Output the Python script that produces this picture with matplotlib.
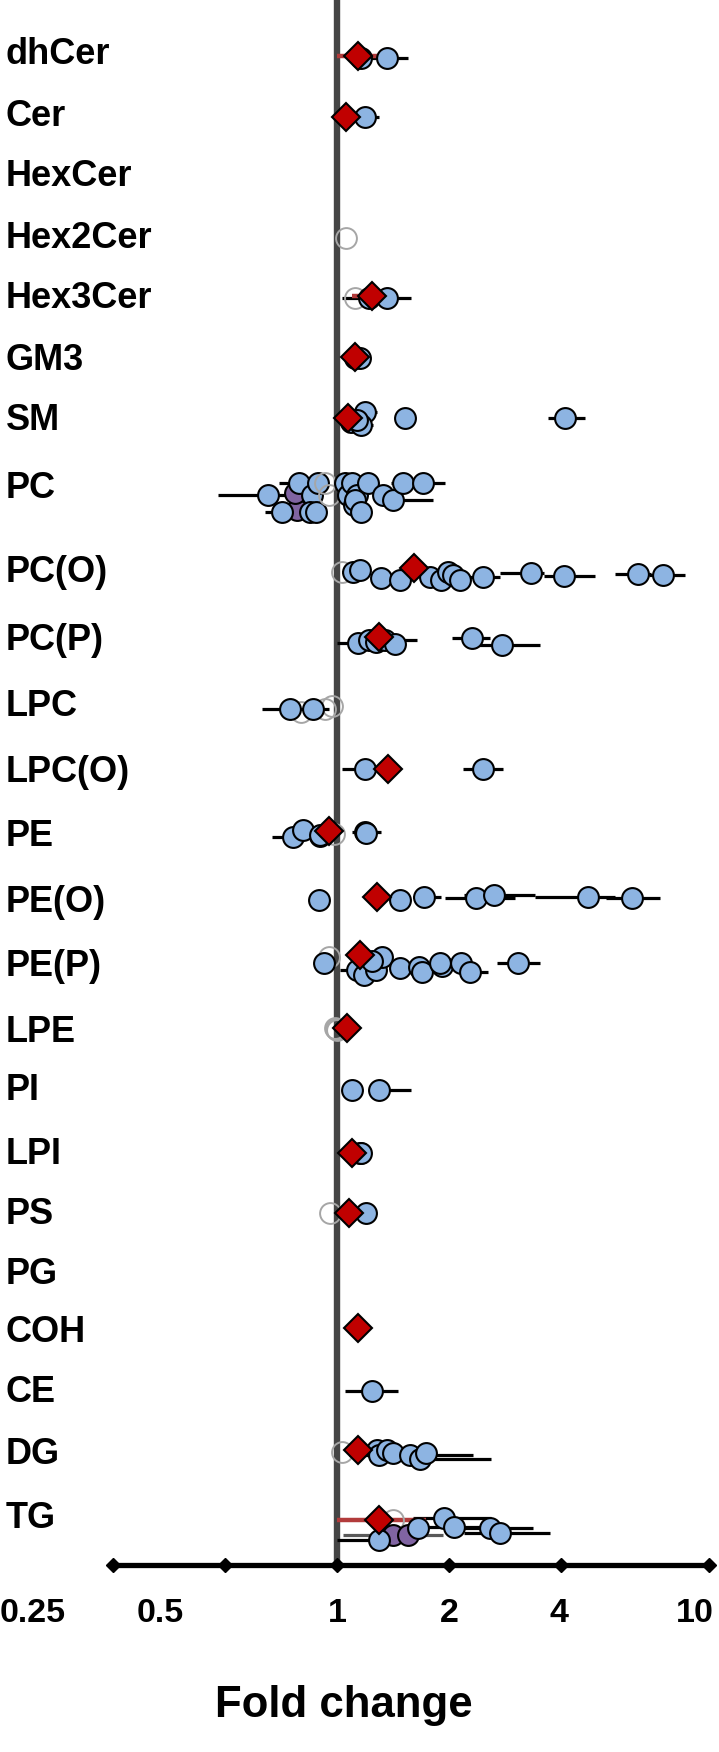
import matplotlib
matplotlib.use('Agg')
import matplotlib.pyplot as plt
from matplotlib.transforms import blended_transform_factory

plt.rcParams['font.family'] = ['Liberation Sans', 'DejaVu Sans']
plt.rcParams['font.weight'] = 'bold'

# ---------------- data ----------------
classes = ['dhCer', 'Cer', 'HexCer', 'Hex2Cer', 'Hex3Cer', 'GM3', 'SM', 'PC', 'PC(O)', 'PC(P)',
           'LPC', 'LPC(O)', 'PE', 'PE(O)', 'PE(P)', 'LPE', 'PI', 'LPI', 'PS', 'PG', 'COH', 'CE',
           'DG', 'TG']

# individual species: class, fold change, CI low, CI high, kind (s=significant, n=ns, p=purple), jitter
sp_class = (['dhCer'] * 2 + ['Cer'] * 1 + ['Hex2Cer'] * 1 + ['Hex3Cer'] * 3 + ['GM3'] * 2 +
            ['SM'] * 6 + ['PC'] * 23 + ['PC(O)'] * 15 + ['PC(P)'] * 7 + ['LPC'] * 5 +
            ['LPC(O)'] * 2 + ['PE'] * 7 + ['PE(O)'] * 7 + ['PE(P)'] * 15 + ['LPE'] * 3 +
            ['PI'] * 2 + ['LPI'] * 2 + ['PS'] * 2 + ['CE'] * 1 + ['DG'] * 8 + ['TG'] * 9)

sp_fc = [1.16, 1.36,
         1.19,
         1.06,
         1.12, 1.22, 1.36,
         1.12, 1.15,
         1.19, 1.09, 1.16, 1.13, 1.52, 4.10,
         0.78, 0.77, 0.654, 0.71, 0.79, 0.855, 0.89, 0.846, 0.88, 0.93, 0.95,
         1.05, 1.07, 1.10, 1.11, 1.13, 1.12, 1.16, 1.21, 1.33, 1.41, 1.50, 1.70,
         1.03, 1.105, 1.15, 1.31, 1.48, 1.78, 1.90, 1.99, 2.05, 2.14, 2.47, 3.32, 4.07, 6.43, 7.5,
         1.14, 1.22, 1.27, 1.35, 1.43, 2.30, 2.77,
         0.80, 0.93, 0.97, 0.746, 0.86,
         1.19, 2.47,
         0.90, 0.76, 0.81, 0.90, 0.98, 1.19, 1.20,
         0.896, 1.48, 1.71, 2.36, 2.64, 4.73, 6.19,
         0.95, 0.92, 1.13, 1.18, 1.27, 1.32, 1.24, 1.48, 1.66, 1.69, 1.91, 1.89, 2.16, 2.28, 3.07,
         0.99, 1.00, 0.995,
         1.095, 1.30,
         1.15, 1.16,
         0.955, 1.20,
         1.24,
         1.03, 1.28, 1.30, 1.36, 1.41, 1.57, 1.67, 1.73,
         1.41, 1.41, 1.55, 1.30, 1.65, 1.94, 2.06, 2.57, 2.74]

sp_lo = [1.16, 1.20,
         1.10,
         1.06,
         1.12, 1.03, 1.22,
         1.12, 1.08,
         1.19, 1.09, 1.10, 1.13, 1.52, 3.70,
         0.78, 0.77, 0.48, 0.64, 0.70, 0.855, 0.89, 0.846, 0.88, 0.93, 0.95,
         1.05, 1.07, 1.10, 1.11, 1.13, 1.12, 1.16, 1.21, 1.33, 1.30, 1.40, 1.55,
         1.03, 1.03, 1.15, 1.31, 1.48, 1.78, 1.90, 1.99, 2.05, 2.14, 2.20, 2.74, 3.60, 5.60, 6.90,
         1.00, 1.22, 1.27, 1.30, 1.43, 2.04, 2.40,
         0.80, 0.93, 0.97, 0.63, 0.80,
         1.03, 2.18,
         0.90, 0.67, 0.81, 0.90, 0.98, 1.10, 1.20,
         0.87, 1.48, 1.60, 1.95, 2.20, 3.40, 5.30,
         0.95, 0.92, 1.02, 1.18, 1.27, 1.32, 1.24, 1.48, 1.66, 1.69, 1.91, 1.89, 2.16, 2.28, 2.69,
         0.99, 1.00, 0.995,
         1.03, 1.30,
         1.15, 1.16,
         0.955, 1.20,
         1.05,
         1.03, 1.28, 1.08, 1.36, 1.41, 1.40, 1.50, 1.73,
         1.41, 1.41, 1.04, 1.00, 1.65, 1.60, 1.70, 2.10, 2.20]

sp_hi = [1.16, 1.55,
         1.30,
         1.06,
         1.12, 1.30, 1.58,
         1.12, 1.23,
         1.28, 1.09, 1.25, 1.13, 1.52, 4.65,
         0.78, 0.77, 0.74, 0.78, 0.86, 0.855, 0.89, 0.846, 0.88, 0.93, 0.95,
         1.05, 1.07, 1.10, 1.11, 1.13, 1.12, 1.16, 1.21, 1.33, 1.81, 1.60, 1.95,
         1.03, 1.105, 1.15, 1.31, 1.48, 1.78, 1.90, 1.99, 2.05, 2.14, 2.74, 3.60, 4.93, 7.00, 8.60,
         1.20, 1.22, 1.27, 1.64, 1.43, 2.58, 3.51,
         0.80, 0.93, 0.97, 0.80, 0.95,
         1.25, 2.79,
         0.90, 0.80, 0.81, 0.90, 0.98, 1.31, 1.20,
         0.93, 1.48, 1.90, 3.00, 3.40, 5.60, 7.40,
         0.95, 0.95, 1.13, 1.18, 1.27, 1.32, 1.24, 1.48, 1.66, 1.69, 1.91, 1.89, 2.16, 2.55, 3.51,
         0.99, 1.00, 0.995,
         1.095, 1.58,
         1.15, 1.16,
         0.955, 1.20,
         1.46,
         1.03, 1.28, 1.30, 1.36, 1.41, 2.32, 2.60, 1.73,
         1.41, 1.41, 1.93, 1.50, 1.65, 2.60, 2.70, 3.36, 3.73]

sp_kind = ('ss' + 's' + 'n' + 'nss' + 'ss' + 'ssssss' +
           'pp' + 'sssssss' + 'nn' + 'ssssssssssss' +
           'n' + 'ssssssssssssss' +
           'sssssss' +
           'nnnss' +
           'ss' +
           'psssnss' +
           'sssssss' +
           'nssssssssssssss' +
           'nnn' + 'ss' + 'ss' + 'ns' + 's' +
           'nsssssss' +
           'nppssssss')

sp_jitter = [7, 7,
             4,
             2,
             2, 2, 2,
             0, 0,
             -6, 4, 7, 2, 0, 0,
             25, 8, 10, 27, -2, 10, -2, 27, 27, -2, 10,
             -2, 10, -2, 20, 10, 15, 27, -2, 10, 15, -2, -2,
             2, 2, 0, 8, 10, 7, 10, 2, 5, 10, 7, 3, 6, 4, 5,
             5, 2, 4, 2, 6, 0, 7,
             8, 5, 2, 5, 5,
             0, 0,
             2, 3, -4, 1, 0, -2, -1,
             0, 0, -3, -2, -5, -3, -2,
             -7, -1, 6, 11, 6, -7, -3, 4, 3, 8, 2, -1, -1, 8, -1,
             -1, 1, 0,
             3, 3,
             1, 1,
             2, 2,
             1,
             1, -1, 4, -1, 2, 4, 8, 2,
             5, 20, 20, 25, 13, 3, 12, 13, 18]

# class means (red diamonds)
mean_class = ['dhCer', 'Cer', 'Hex3Cer', 'GM3', 'SM', 'PC(O)', 'PC(P)', 'LPC(O)', 'PE', 'PE(O)',
              'PE(P)', 'LPE', 'LPI', 'PS', 'COH', 'DG', 'TG']
mean_fc = [1.14, 1.06, 1.24, 1.12, 1.07, 1.61, 1.30, 1.37, 0.95, 1.28,
           1.15, 1.066, 1.10, 1.08, 1.14, 1.14, 1.30]
mean_lo = [1.00, 1.06, 1.10, 1.12, 1.07, 1.61, 1.30, 1.37, 0.95, 1.28,
           1.15, 1.066, 1.10, 1.08, 1.14, 1.14, 1.00]
mean_hi = [1.28, 1.06, 1.24, 1.12, 1.07, 1.61, 1.30, 1.40, 0.95, 1.28,
           1.15, 1.066, 1.10, 1.08, 1.14, 1.14, 1.73]
mean_jitter = [5, 4, 0, -1, 0, -2, -1, 0, -3, -3, -9, -1, 1, 2, -2, -1, 5]

tick_values = [0.25, 0.5, 1, 2, 4, 10]
tick_labels = ['0.25', '0.5', '1', '2', '4', '10']

# ---------------- layout ----------------
row_pos = [51, 113, 174, 236, 296, 358, 418, 485, 570, 638, 704, 769, 834, 900, 964, 1029,
           1087, 1152, 1211, 1272, 1330, 1390, 1451, 1515]
label_px = [33, 160, 337, 449, 559, 695]   # horizontal centres of the axis labels (pixels)
axis_y = 1565
W, H = 719, 1752
X1, PX_PER_DOUBLING = 337, 112

fig = plt.figure(figsize=(W / 100, H / 100), dpi=100)
ax = fig.add_axes([0, 0, 1, 1])
ax.set_xscale('log', base=2)
ax.set_xlim(2 ** (-X1 / PX_PER_DOUBLING), 2 ** ((W - X1) / PX_PER_DOUBLING))
ax.set_ylim(H, 0)
ax.axis('off')

row_of = dict(zip(classes, row_pos))

# reference line at 1
ax.plot([1, 1], [0, axis_y], color='#454545', lw=4.6, zorder=1.5, solid_capstyle='butt')

colors = {'s': '#8DB4E2', 'p': '#8064A2'}
err_col = {'s': 'black', 'p': '#595959', 'n': '#A6A6A6'}

# error bars
for c, fc, lo, hi, k, dy in zip(sp_class, sp_fc, sp_lo, sp_hi, sp_kind, sp_jitter):
    y = row_of[c] + dy
    if hi > lo:
        ax.plot([lo, hi], [y, y], color=err_col[k], lw=2.3, zorder=2, solid_capstyle='butt')
for c, fc, lo, hi, dy in zip(mean_class, mean_fc, mean_lo, mean_hi, mean_jitter):
    y = row_of[c] + dy
    if hi > lo:
        ax.plot([lo, hi], [y, y], color='#B23B3B', lw=3.2, zorder=2.2, solid_capstyle='butt')

# species markers
for c, fc, lo, hi, k, dy in zip(sp_class, sp_fc, sp_lo, sp_hi, sp_kind, sp_jitter):
    y = row_of[c] + dy
    if k == 'n':
        ax.plot(fc, y, 'o', ms=15, mfc='none', mec='#A6A6A6', mew=1.4, zorder=3)
    else:
        ax.plot(fc, y, 'o', ms=15, mfc=colors[k], mec='black', mew=1.5, zorder=3)

# class means
for c, fc, dy in zip(mean_class, mean_fc, mean_jitter):
    y = row_of[c] + dy
    ax.plot(fc, y, 'D', ms=14, mfc='#C00000', mec='black', mew=1.5, zorder=4)

# category labels
tr = blended_transform_factory(ax.transAxes, ax.transData)
for c, y in zip(classes, row_pos):
    ax.text(0.008, y + 3, c, transform=tr, ha='left', va='center', fontsize=26, fontweight='bold')

# custom x axis
ax.plot([tick_values[0], tick_values[-1]], [axis_y, axis_y], color='black', lw=3.8, zorder=5)
ax.plot(tick_values, [axis_y] * len(tick_values), 'D', color='black', ms=7.5, zorder=6)
for px, lab in zip(label_px, tick_labels):
    ax.text(2 ** ((px - X1) / PX_PER_DOUBLING), 1614, lab, ha='center', va='center',
            fontsize=24.5, fontweight='bold')

fig.text(344 / W, 1 - 1706 / H, 'Fold change', ha='center', va='center', fontsize=31.5,
         fontweight='bold')

fig.savefig('out.png', dpi=100)
